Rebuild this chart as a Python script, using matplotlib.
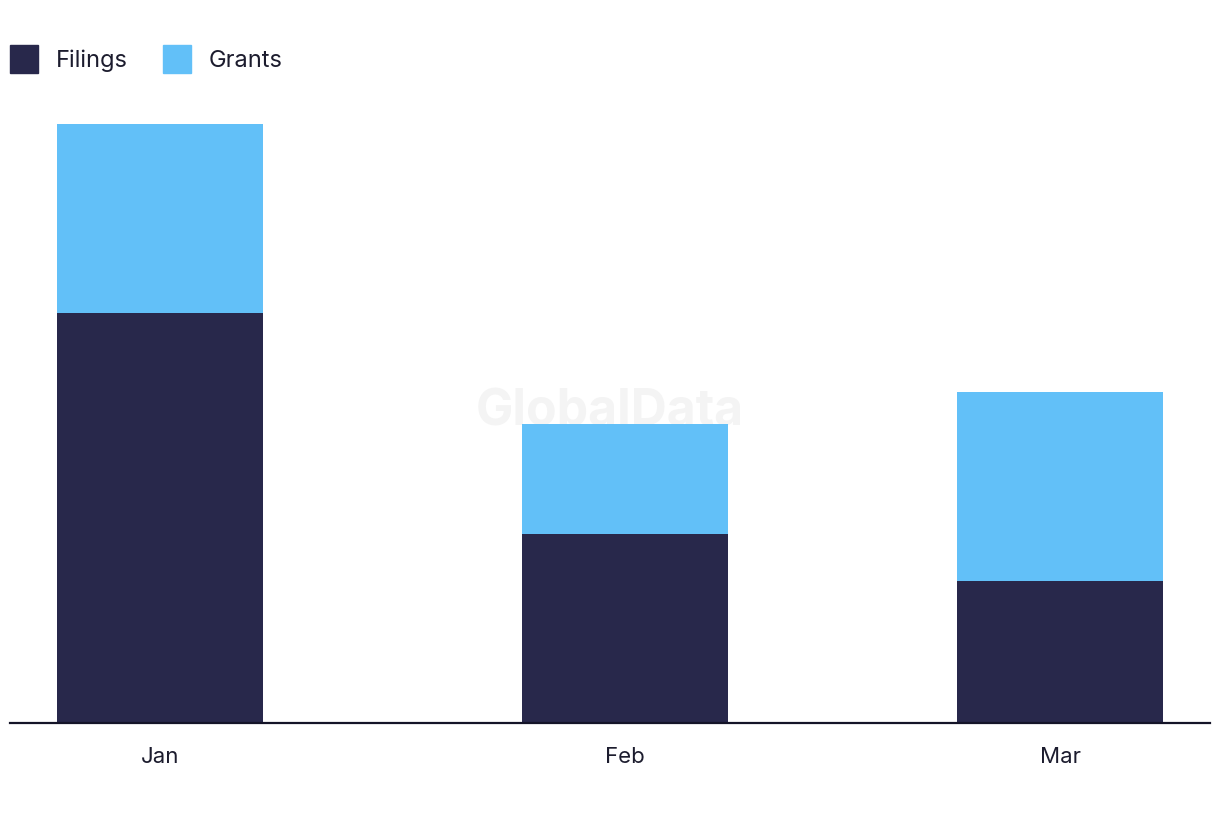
import matplotlib.pyplot as plt
from matplotlib.patches import Patch

months = ['Jan', 'Feb', 'Mar']
filings = [26, 12, 9]
grants = [12, 7, 12]

# layout (bar centres are not evenly spaced in the original)
x_pos = [0, 1.033, 2]
bar_w = 0.458

navy = '#28284b'
sky = '#62c0f8'

plt.rcParams['font.family'] = ['Inter', 'DejaVu Sans']

fig = plt.figure(figsize=(12.2, 8.22), dpi=100)
ax = fig.add_axes([10 / 1220, 99 / 822, 1200 / 1220, (723 - 124) / 822])

ax.bar(x_pos, filings, width=bar_w, color=navy, zorder=2)
ax.bar(x_pos, grants, width=bar_w, bottom=filings, color=sky, zorder=2)

ax.set_xlim(-0.333, 2.333)
ax.set_ylim(0, sum([filings[0], grants[0]]))
ax.set_xticks(x_pos)
ax.set_xticklabels(months, fontsize=16, color='#1c1c2e')
ax.tick_params(axis='x', length=0, pad=17)
ax.set_yticks([])
for s in ['top', 'right', 'left']:
    ax.spines[s].set_visible(False)
ax.spines['bottom'].set_color('#141428')
ax.spines['bottom'].set_linewidth(1.6)
ax.spines['bottom'].set_zorder(3)

ax.text(0.5, 0.52, 'GlobalData', transform=ax.transAxes, fontsize=36,
        fontweight='bold', color='#f4f4f4', ha='center', va='center', zorder=1)

handles = [Patch(color=navy, label='Filings'), Patch(color=sky, label='Grants')]
fig.legend(handles=handles, loc='upper left', bbox_to_anchor=(10 / 1220, 1 - 45 / 822),
           ncol=2, frameon=False, fontsize=17, handlelength=1.19, handleheight=1.45,
           handletextpad=0.76, columnspacing=1.48, borderpad=0, borderaxespad=0,
           labelcolor='#1c1c2e')

fig.savefig('out.png', dpi=100)
